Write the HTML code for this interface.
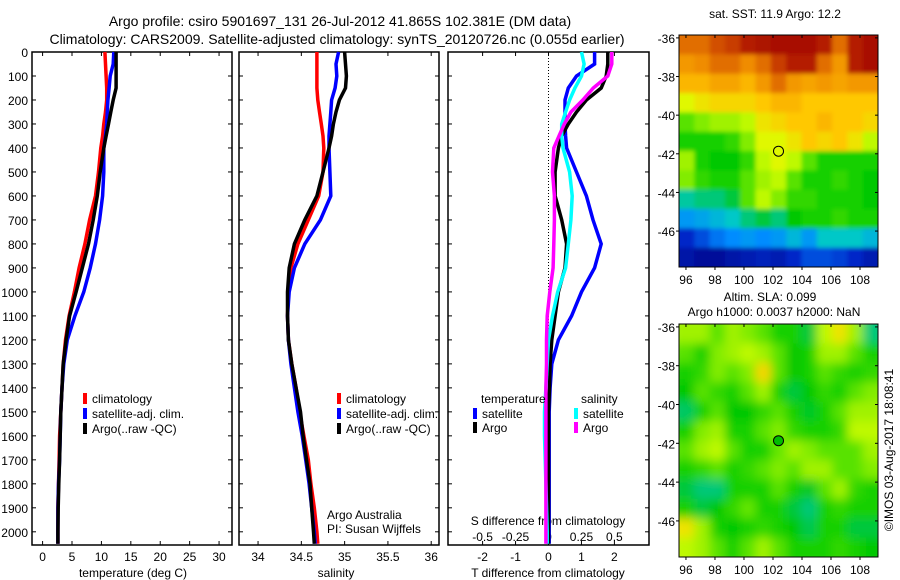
<!DOCTYPE html>
<html><head><meta charset="utf-8"><style>
body{margin:0;background:#fff}
svg{display:block;font-family:"Liberation Sans",sans-serif}
</style></head><body>
<svg id="fig" width="900" height="580" xmlns="http://www.w3.org/2000/svg">
<defs>
<filter id="blur" x="-5%" y="-5%" width="110%" height="110%"><feGaussianBlur stdDeviation="5"/></filter>
<filter id="blur2" x="-5%" y="-5%" width="110%" height="110%"><feGaussianBlur stdDeviation="2"/></filter>
<clipPath id="clipSla"><rect x="679" y="324" width="199" height="233"/></clipPath>
<clipPath id="clipSst"><rect x="679" y="35" width="199" height="232"/></clipPath>
</defs>
<rect width="900" height="580" fill="#fff"/>
<text x="340" y="26" font-size="14" text-anchor="middle">Argo profile: csiro 5901697_131 26-Jul-2012 41.865S 102.381E (DM data)</text>
<text x="337" y="44" font-size="14" text-anchor="middle">Climatology: CARS2009. Satellite-adjusted climatology: synTS_20120726.nc (0.055d earlier)</text>
<g id="g"></g>
</svg>
<script>
// ---- profile data ----
const depthLevels = [0,50,100,150,200,250,300,350,400,500,600,700,800,900,1000,1100,1200,1300,1400,1500,1600,1700,1800,1900,2000,2050];
const tempClim = [10.6,10.7,10.8,10.9,10.9,10.7,10.4,10.2,9.9,9.5,9.0,8.0,7.2,6.2,5.4,4.5,3.9,3.5,3.3,3.1,2.9,2.8,2.7,2.6,2.6,2.6];
const tempSat  = [12.1,12.0,11.5,11.3,11.1,11.0,10.9,10.7,10.4,10.4,10.2,9.7,9.0,8.1,7.0,5.5,4.2,3.6,3.3,3.1,3.0,2.9,2.7,2.6,2.6,2.6];
const tempArgo = [12.5,12.5,12.5,12.5,12.0,11.6,11.2,10.8,10.4,9.8,9.3,8.6,7.8,6.75,5.7,4.6,4.0,3.5,3.3,3.1,3.0,2.9,2.75,2.65,2.6,2.6];
const salClim = [34.68,34.68,34.68,34.68,34.69,34.71,34.73,34.75,34.76,34.75,34.7,34.58,34.46,34.38,34.35,34.34,34.35,34.39,34.44,34.48,34.53,34.58,34.61,34.65,34.68,34.69];
const salSat  = [34.93,34.9,34.91,34.89,34.85,34.84,34.83,34.82,34.82,34.83,34.84,34.72,34.54,34.42,34.36,34.34,34.35,34.38,34.42,34.46,34.51,34.55,34.59,34.62,34.65,34.66];
const salArgo = [35.0,35.01,35.02,35.01,34.94,34.9,34.87,34.85,34.82,34.75,34.68,34.54,34.42,34.36,34.34,34.34,34.35,34.39,34.44,34.49,34.52,34.56,34.6,34.62,34.64,34.65];
const diffDepths = [0,50,100,150,200,250,300,350,400,500,600,700,800,900,1000,1100,1200,1300,1400,1500,1600,1800,2000,2050];
const dTsat  = [1.4,1.4,0.85,0.6,0.5,0.5,0.5,0.52,0.55,0.85,1.15,1.35,1.6,1.4,1.0,0.7,0.3,0.1,0.05,0.02,0.02,0.02,0.02,0.02];
const dTargo = [1.8,1.8,1.75,1.6,1.15,0.85,0.6,0.4,0.3,0.2,0.2,0.4,0.55,0.5,0.3,0.2,0.1,0.05,0.03,0.0,0.0,0.0,0.0,0.0];
const dSsat  = [0.25,0.27,0.25,0.2,0.16,0.13,0.1,0.1,0.11,0.16,0.18,0.17,0.15,0.13,0.07,0.03,0.0,-0.01,-0.02,-0.03,-0.03,-0.02,-0.01,-0.01];
const dSargo = [0.48,0.48,0.45,0.34,0.26,0.17,0.12,0.08,0.04,0.03,0.045,0.045,0.04,0.035,0.01,-0.01,-0.015,-0.015,-0.02,-0.02,-0.02,-0.02,-0.02,-0.02];
const depthTicks = [0,100,200,300,400,500,600,700,800,900,1000,1100,1200,1300,1400,1500,1600,1700,1800,1900,2000];
const tempTicks = [0,5,10,15,20,25,30];
const salTicks = [34,34.5,35,35.5,36];
const salTickLabels = ["34","34.5","35","35.5","36"];
const dTTicks = [-2,-1,0,1,2];
const dSTicks = [-0.5,-0.25,0,0.25,0.5];
const dSTickLabels = ["-0.5","-0.25","0","0.25","0.5"];
// ---- map data (rows north->south, cols west->east) ----
const sstGrid = [
[0.85,0.85,0.88,0.9,0.95,0.97,0.98,0.98,0.98,0.95,0.85,0.95,0.98],
[0.8,0.82,0.85,0.85,0.82,0.85,0.9,0.95,0.95,0.85,0.8,0.95,0.98],
[0.75,0.75,0.78,0.78,0.75,0.8,0.85,0.8,0.78,0.8,0.78,0.8,0.8],
[0.65,0.68,0.7,0.7,0.7,0.72,0.75,0.75,0.72,0.72,0.72,0.72,0.72],
[0.55,0.58,0.6,0.6,0.62,0.68,0.7,0.72,0.72,0.75,0.72,0.72,0.7],
[0.5,0.5,0.5,0.52,0.58,0.65,0.65,0.68,0.72,0.7,0.72,0.68,0.62],
[0.6,0.5,0.48,0.48,0.52,0.62,0.65,0.62,0.55,0.5,0.5,0.5,0.5],
[0.58,0.52,0.5,0.5,0.55,0.6,0.62,0.55,0.5,0.5,0.52,0.5,0.48],
[0.4,0.42,0.42,0.45,0.55,0.62,0.58,0.52,0.52,0.5,0.5,0.5,0.48],
[0.3,0.32,0.35,0.38,0.42,0.45,0.42,0.48,0.5,0.5,0.52,0.5,0.5],
[0.15,0.2,0.25,0.28,0.3,0.28,0.3,0.35,0.3,0.38,0.38,0.38,0.35],
[0.08,0.05,0.05,0.08,0.1,0.12,0.1,0.15,0.2,0.2,0.18,0.15,0.1]];
const slaGrid = [
[0.6,0.6,0.55,0.6,0.58,0.55,0.5,0.5,0.45,0.62,0.68,0.6,0.42],
[0.55,0.5,0.58,0.6,0.62,0.6,0.55,0.48,0.5,0.6,0.6,0.55,0.5],
[0.5,0.52,0.58,0.55,0.58,0.7,0.55,0.48,0.5,0.55,0.52,0.5,0.52],
[0.48,0.55,0.52,0.5,0.55,0.6,0.5,0.45,0.48,0.52,0.5,0.55,0.58],
[0.43,0.5,0.55,0.48,0.48,0.52,0.55,0.5,0.46,0.5,0.55,0.6,0.6],
[0.5,0.58,0.6,0.5,0.5,0.55,0.58,0.52,0.5,0.5,0.52,0.62,0.62],
[0.55,0.6,0.62,0.55,0.5,0.5,0.56,0.6,0.58,0.55,0.55,0.55,0.6],
[0.5,0.52,0.55,0.5,0.52,0.55,0.58,0.55,0.6,0.6,0.55,0.55,0.58],
[0.45,0.42,0.42,0.5,0.5,0.5,0.55,0.5,0.46,0.55,0.6,0.52,0.5],
[0.5,0.45,0.48,0.52,0.56,0.5,0.5,0.45,0.42,0.5,0.52,0.5,0.5],
[0.68,0.6,0.5,0.48,0.5,0.52,0.5,0.48,0.44,0.5,0.5,0.45,0.45],
[0.62,0.6,0.55,0.5,0.55,0.6,0.55,0.5,0.5,0.5,0.52,0.5,0.48]];
const lonTicks = [96,98,100,102,104,106,108];
const latTicks = [-36,-38,-40,-42,-44,-46];
const argoLon = 102.381, argoLat = -41.865;

const NS="http://www.w3.org/2000/svg";
const G=document.getElementById('g');
function mk(tag,attrs,parent){const e=document.createElementNS(NS,tag);for(const k in attrs)e.setAttribute(k,attrs[k]);(parent||G).appendChild(e);return e;}
function txt(x,y,s,size,anchor,parent){const e=mk('text',{x:x,y:y,'font-size':size,'text-anchor':anchor||'middle'},parent);e.textContent=s;return e;}

const TOP=52,BOT=545,DMAX=2055;
const yD=d=>TOP+(d/DMAX)*(BOT-TOP);
function panel(name,x0,x1,xmin,xmax){
  const g=mk('g',{});
  
  
  const xs=v=>x0+(v-xmin)/(xmax-xmin)*(x1-x0);
  const r=mk('rect',{x:x0,y:TOP,width:x1-x0,height:BOT-TOP,fill:'none',stroke:'#000','stroke-width':1.5},g);
  
  
  depthTicks.forEach(d=>{mk('line',{x1:x0,x2:x0+4,y1:yD(d),y2:yD(d),stroke:'#000'},g);mk('line',{x1:x1-4,x2:x1,y1:yD(d),y2:yD(d),stroke:'#000'},g);});
  return {g,xs};
}
function line(p,xs,vals,depths,color,name){
  const pts=vals.map((v,i)=>xs(v).toFixed(1)+','+yD(depths[i]).toFixed(1)).join(' ');
  const e=mk('polyline',{points:pts,fill:'none',stroke:color,'stroke-width':3.5,'stroke-linejoin':'miter'},p.g);
  
  
}
function legendEntry(g,x,y,color,label,name){
  const e=mk('g',{},g);
  
  
  mk('rect',{x:x,y:y-10,width:4,height:11,fill:color},e);
  txt(x+9,y,label,12,'start',e);
}
// Panel 1 temperature
const p1=panel('temperature-panel',32,232,-1.8,32.2);
depthTicks.forEach(d=>{txt(28,yD(d)+5,String(d),12,'end',p1.g);});
tempTicks.forEach(v=>{mk('line',{x1:p1.xs(v),x2:p1.xs(v),y1:BOT,y2:BOT-4,stroke:'#000'},p1.g);mk('line',{x1:p1.xs(v),x2:p1.xs(v),y1:TOP,y2:TOP+4,stroke:'#000'},p1.g);txt(p1.xs(v),561,String(v),12,'middle',p1.g);});
const t1=txt(133,577,'temperature (deg C)',12,'middle',p1.g);


line(p1,p1.xs,tempClim,depthLevels,'#ff0000','temp-climatology-line');
line(p1,p1.xs,tempSat,depthLevels,'#0000ff','temp-satellite-line');
line(p1,p1.xs,tempArgo,depthLevels,'#000000','temp-argo-line');
legendEntry(p1.g,83,403,'#f00','climatology','legend-climatology');
legendEntry(p1.g,83,418,'#00f','satellite-adj. clim.','legend-satellite');
legendEntry(p1.g,83,433,'#000','Argo(..raw -QC)','legend-argo');
// Panel 2 salinity
const p2=panel('salinity-panel',239,439,33.78,36.09);
salTicks.forEach((v,i)=>{mk('line',{x1:p2.xs(v),x2:p2.xs(v),y1:BOT,y2:BOT-4,stroke:'#000'},p2.g);mk('line',{x1:p2.xs(v),x2:p2.xs(v),y1:TOP,y2:TOP+4,stroke:'#000'},p2.g);txt(p2.xs(v),561,salTickLabels[i],12,'middle',p2.g);});
txt(336,577,'salinity',12,'middle',p2.g);
line(p2,p2.xs,salClim,depthLevels,'#ff0000','sal-climatology-line');
line(p2,p2.xs,salSat,depthLevels,'#0000ff','sal-satellite-line');
line(p2,p2.xs,salArgo,depthLevels,'#000000','sal-argo-line');
legendEntry(p2.g,337,403,'#f00','climatology','legend-sal-climatology');
legendEntry(p2.g,337,418,'#00f','satellite-adj. clim.','legend-sal-satellite');
legendEntry(p2.g,337,433,'#000','Argo(..raw -QC)','legend-sal-argo');
txt(327,519,'Argo Australia',12,'start',p2.g);
txt(327,533,'PI: Susan Wijffels',12,'start',p2.g);
// Panel 3 differences
const p3=panel('difference-panel',448,649,-3.05,3.05);
const xsS=v=>p3.xs(v*4);
mk('line',{x1:p3.xs(0),x2:p3.xs(0),y1:TOP,y2:BOT,stroke:'#000','stroke-dasharray':'1,2'},p3.g);
dTTicks.forEach(v=>{mk('line',{x1:p3.xs(v),x2:p3.xs(v),y1:BOT,y2:BOT-4,stroke:'#000'},p3.g);txt(p3.xs(v),561,String(v),12,'middle',p3.g);});
dSTicks.forEach((v,i)=>{mk('line',{x1:xsS(v),x2:xsS(v),y1:TOP,y2:TOP+4,stroke:'#000'},p3.g);txt(xsS(v),541,dSTickLabels[i],12,'middle',p3.g);});
txt(548,525,'S difference from climatology',12,'middle',p3.g);
txt(548,577,'T difference from climatology',12,'middle',p3.g);
line(p3,p3.xs,dTsat,diffDepths,'#0000ff','tdiff-satellite-line');
line(p3,p3.xs,dTargo,diffDepths,'#000000','tdiff-argo-line');
line(p3,xsS,dSsat,diffDepths,'#00ffff','sdiff-satellite-line');
line(p3,xsS,dSargo,diffDepths,'#ff00ff','sdiff-argo-line');
txt(481,403,'temperature',12,'start',p3.g);
txt(581,403,'salinity',12,'start',p3.g);
legendEntry(p3.g,473,418,'#00f','satellite','legend-tdiff-satellite');
legendEntry(p3.g,473,432,'#000','Argo','legend-tdiff-argo');
legendEntry(p3.g,574,418,'#0ff','satellite','legend-sdiff-satellite');
legendEntry(p3.g,574,432,'#f0f','Argo','legend-sdiff-argo');

// Maps
const stops=[[0,0,0,130],[0.15,0,40,200],[0.28,0,140,255],[0.38,0,200,200],[0.48,0,200,0],[0.56,100,230,0],[0.64,220,255,0],[0.72,255,200,0],[0.82,240,140,0],[0.9,200,60,0],[1,160,0,0]];
function cmap(v){for(let i=1;i<stops.length;i++){if(v<=stops[i][0]){const a=stops[i-1],b=stops[i],t=(v-a[0])/(b[0]-a[0]);return 'rgb('+[1,2,3].map(k=>Math.round(a[k]+t*(b[k]-a[k]))).join(',')+')';}}return 'rgb(160,0,0)';}
function map(name,grid,x0,x1,y0,y1,lon0,lon1,lat0,lat1,dotFill,clip,filt){
  const g=mk('g',{});
  
  
  const lx=l=>x0+(l-lon0)/(lon1-lon0)*(x1-x0);
  const ly=l=>y0+(lat0-l)/(lat0-lat1)*(y1-y0);
  const rows=grid.length,cols=grid[0].length,cw=(x1-x0)/cols,ch=(y1-y0)/rows;
  const clipG=mk('g',{'clip-path':'url(#'+clip+')'},g);
  const cells=mk('g',{filter:'url(#'+filt+')'},clipG);
  
  
  grid.forEach((row,r)=>row.forEach((v,c)=>{
    const xx=x0+c*cw-(c===0?8:0), yy=y0+r*ch-(r===0?8:0);
    const ww=cw+0.6+(c===0?8:0)+(c===cols-1?8:0), hh=ch+0.6+(r===0?8:0)+(r===rows-1?8:0);
    mk('rect',{x:xx.toFixed(2),y:yy.toFixed(2),width:ww.toFixed(2),height:hh.toFixed(2),fill:cmap(v)},cells);}));
  mk('rect',{x:x0,y:y0,width:x1-x0,height:y1-y0,fill:'none',stroke:'#000'},g);
  lonTicks.forEach(l=>{mk('line',{x1:lx(l),x2:lx(l),y1:y1,y2:y1+3,stroke:'#000'},g);mk('line',{x1:lx(l),x2:lx(l),y1:y0,y2:y0+3,stroke:'#000'},g);txt(lx(l),y1+17,String(l),12,'middle',g);});
  latTicks.forEach(l=>{mk('line',{x1:x0-3,x2:x0,y1:ly(l),y2:ly(l),stroke:'#000'},g);mk('line',{x1:x1-3,x2:x1,y1:ly(l),y2:ly(l),stroke:'#000'},g);txt(x0-4,ly(l)+5,String(l),12,'end',g);});
  const c=mk('circle',{cx:lx(argoLon),cy:ly(argoLat),r:5,fill:dotFill,stroke:'#000'},g);
  
  
}
map('sst-map',sstGrid,679,878,35,267,95.52,109.24,-35.85,-47.86,'none','clipSst','blur2');
txt(775,18,'sat. SST: 11.9 Argo: 12.2',12,'middle');
txt(770,301,'Altim. SLA: 0.099',12,'middle');
txt(774,316,'Argo h1000: 0.0037 h2000: NaN',12,'middle');
map('sla-map',slaGrid,679,878,324,557,95.52,109.24,-35.85,-47.86,'#0b0','clipSla','blur');
const cr=txt(0,0,'©IMOS 03-Aug-2017 18:08:41',12,'middle');
cr.setAttribute('transform','translate(893,450) rotate(-90)');


</script>
</body></html>
